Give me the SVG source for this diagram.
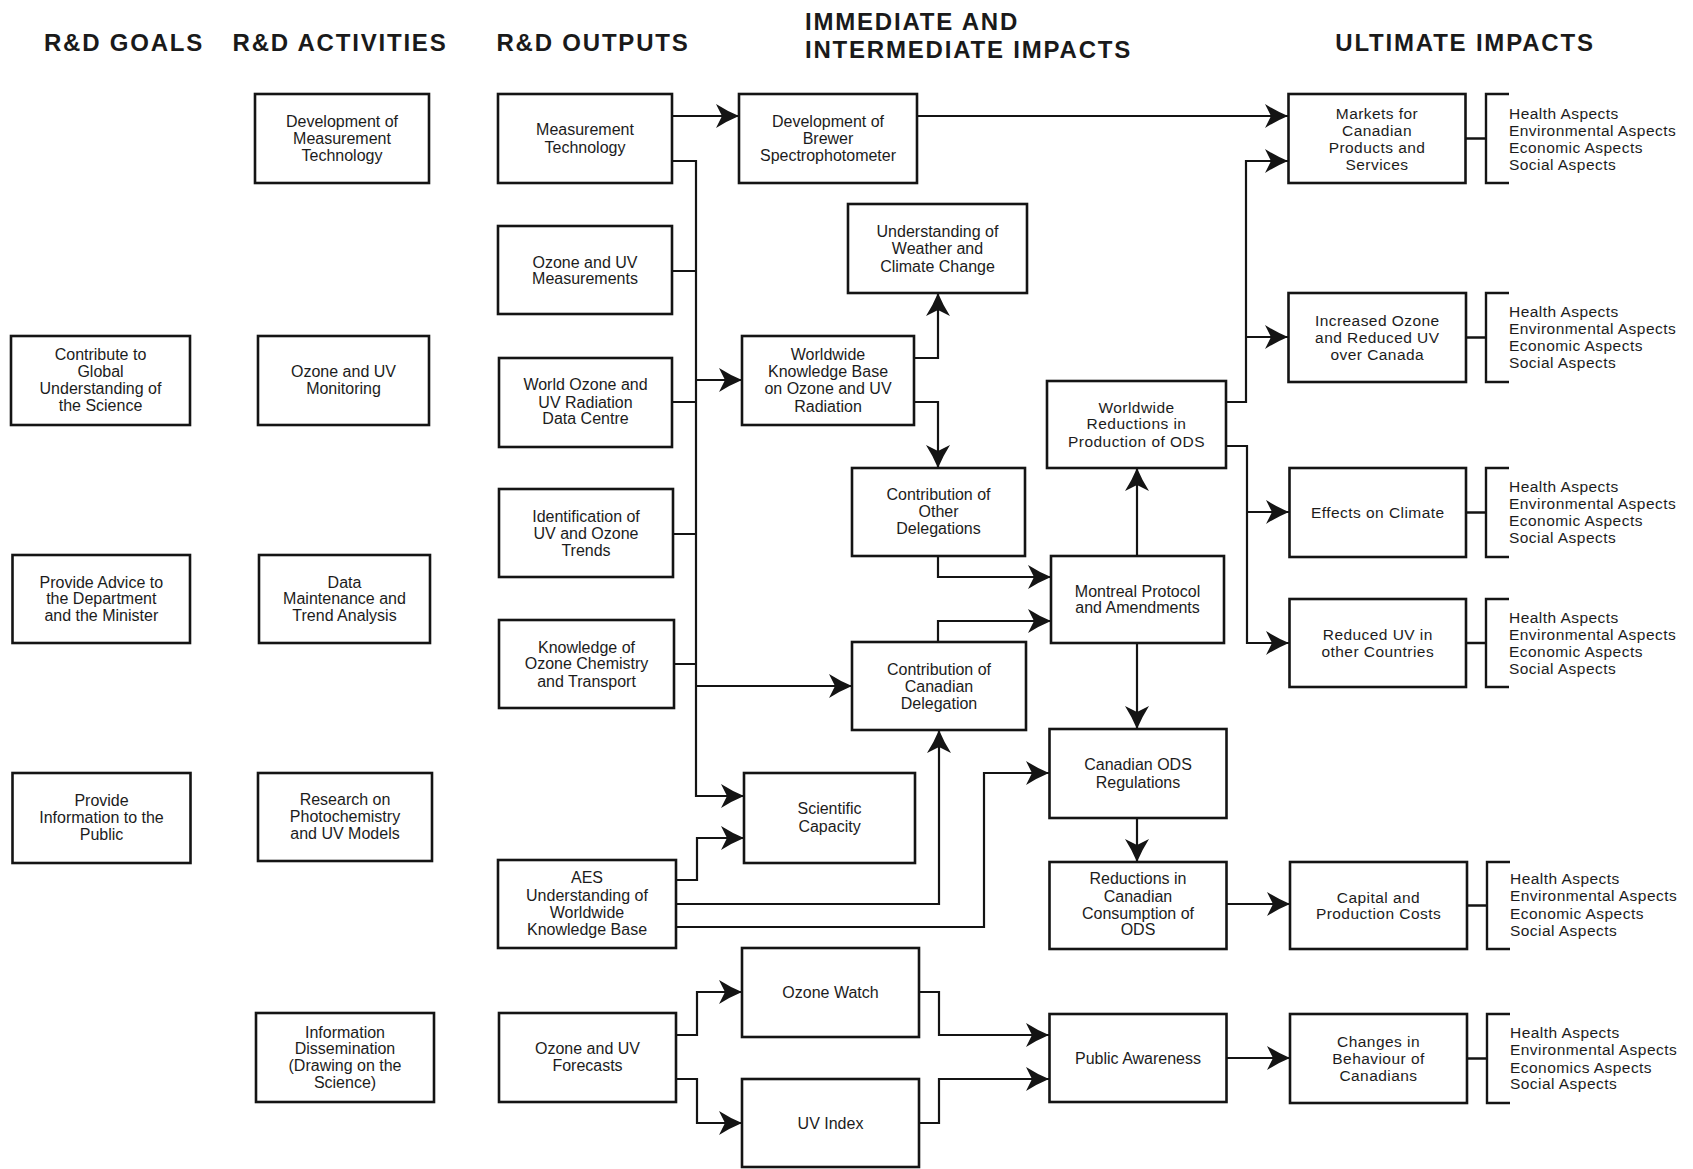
<svg xmlns="http://www.w3.org/2000/svg" width="1693" height="1169" viewBox="0 0 1693 1169">
<style>
.bg{fill:#fff}
.box{fill:#fff;stroke:#141414;stroke-width:2.6}
.t{font-family:"Liberation Sans",Arial,sans-serif;font-size:16px;fill:#1c1c1c;text-anchor:middle}
.w{font-size:15.5px;letter-spacing:0.45px}
.asp{font-family:"Liberation Sans",Arial,sans-serif;font-size:15.5px;letter-spacing:0.45px;fill:#1c1c1c}
.h{font-family:"Liberation Sans",Arial,sans-serif;font-size:24px;font-weight:bold;letter-spacing:1.8px;fill:#1a1a1a}
.c{fill:none;stroke:#141414;stroke-width:2.2}
.br{fill:none;stroke:#141414;stroke-width:2.4}
</style>
<defs>
<marker id="ah" markerUnits="userSpaceOnUse" markerWidth="24" markerHeight="26" viewBox="0 0 24 26" refX="23" refY="13" orient="auto">
<path d="M0,1 Q11,8 23,13 Q11,18 0,25 L6,13 Z" fill="#141414"/>
</marker>
</defs>
<rect class="bg" x="0" y="0" width="1693" height="1169"/>

<g id="headers">
<text class="h" x="124" y="51" text-anchor="middle">R&amp;D GOALS</text>
<text class="h" x="340" y="51" text-anchor="middle">R&amp;D ACTIVITIES</text>
<text class="h" x="593" y="51" text-anchor="middle">R&amp;D OUTPUTS</text>
<text class="h" x="805" y="30">IMMEDIATE AND</text>
<text class="h" x="805" y="58">INTERMEDIATE IMPACTS</text>
<text class="h" x="1465" y="51" text-anchor="middle">ULTIMATE IMPACTS</text>
</g>

<g id="connectors">
<path class="c" d="M672,116 H739" marker-end="url(#ah)"/>
<path class="c" d="M917,116 H1288" marker-end="url(#ah)"/>
<path class="c" d="M672,161 H696 V796 H744" marker-end="url(#ah)"/>
<path class="c" d="M672,271 H696 M672,402 H696 M673,534 H696 M674,664 H696"/>
<path class="c" d="M696,380 H742" marker-end="url(#ah)"/>
<path class="c" d="M696,686 H852" marker-end="url(#ah)"/>
<path class="c" d="M914,358 H938 V293" marker-end="url(#ah)"/>
<path class="c" d="M914,402 H938 V468" marker-end="url(#ah)"/>
<path class="c" d="M938,556 V577 H1051" marker-end="url(#ah)"/>
<path class="c" d="M938,642 V621 H1051" marker-end="url(#ah)"/>
<path class="c" d="M1137,556 V468" marker-end="url(#ah)"/>
<path class="c" d="M1137,643 V729" marker-end="url(#ah)"/>
<path class="c" d="M1137,818 V862" marker-end="url(#ah)"/>
<path class="c" d="M1226,402 H1246 V161 H1288" marker-end="url(#ah)"/>
<path class="c" d="M1246,337 H1288" marker-end="url(#ah)"/>
<path class="c" d="M1226,446 H1247 V643 H1289" marker-end="url(#ah)"/>
<path class="c" d="M1247,512 H1289" marker-end="url(#ah)"/>
<path class="c" d="M1226,904 H1290" marker-end="url(#ah)"/>
<path class="c" d="M1226,1058 H1290" marker-end="url(#ah)"/>
<path class="c" d="M676,880 H697 V838 H744" marker-end="url(#ah)"/>
<path class="c" d="M676,904 H939 V730" marker-end="url(#ah)"/>
<path class="c" d="M676,927 H984 V773 H1049" marker-end="url(#ah)"/>
<path class="c" d="M676,1035 H697 V992 H742" marker-end="url(#ah)"/>
<path class="c" d="M676,1079 H697 V1123 H742" marker-end="url(#ah)"/>
<path class="c" d="M919,992 H939 V1035 H1049" marker-end="url(#ah)"/>
<path class="c" d="M919,1123 H939 V1079 H1049" marker-end="url(#ah)"/>
</g>

<g id="goal1"><rect class="box" x="11" y="336" width="179" height="89"/><text class="t"><tspan x="100.5" y="360">Contribute to</tspan><tspan x="100.5" y="377">Global</tspan><tspan x="100.5" y="394">Understanding of</tspan><tspan x="100.5" y="411">the Science</tspan></text></g>
<g id="goal2"><rect class="box" x="12.5" y="555" width="177.5" height="88"/><text class="t"><tspan x="101.3" y="587.5">Provide Advice to</tspan><tspan x="101.3" y="603.5">the Department</tspan><tspan x="101.3" y="620.5">and the Minister</tspan></text></g>
<g id="goal3"><rect class="box" x="12.5" y="773" width="178" height="90"/><text class="t"><tspan x="101.5" y="805.5">Provide</tspan><tspan x="101.5" y="822.5">Information to the</tspan><tspan x="101.5" y="839.5">Public</tspan></text></g>

<g id="act1"><rect class="box" x="255" y="94" width="174" height="89"/><text class="t"><tspan x="342" y="126.5">Development of</tspan><tspan x="342" y="143.5">Measurement</tspan><tspan x="342" y="160.5">Technology</tspan></text></g>
<g id="act2"><rect class="box" x="258" y="336" width="171" height="89"/><text class="t"><tspan x="343.5" y="376.5">Ozone and UV</tspan><tspan x="343.5" y="393.5">Monitoring</tspan></text></g>
<g id="act3"><rect class="box" x="259" y="555" width="171" height="88"/><text class="t"><tspan x="344.5" y="587.5">Data</tspan><tspan x="344.5" y="603.5">Maintenance and</tspan><tspan x="344.5" y="620.5">Trend Analysis</tspan></text></g>
<g id="act4"><rect class="box" x="258" y="773" width="174" height="88"/><text class="t"><tspan x="345" y="804.5">Research on</tspan><tspan x="345" y="821.5">Photochemistry</tspan><tspan x="345" y="838.5">and UV Models</tspan></text></g>
<g id="act5"><rect class="box" x="256" y="1013" width="178" height="89"/><text class="t"><tspan x="345" y="1037.5">Information</tspan><tspan x="345" y="1053.5">Dissemination</tspan><tspan x="345" y="1070.5">(Drawing on the</tspan><tspan x="345" y="1087.5">Science)</tspan></text></g>

<g id="out1"><rect class="box" x="498" y="94" width="174" height="89"/><text class="t"><tspan x="585" y="134.5">Measurement</tspan><tspan x="585" y="152.5">Technology</tspan></text></g>
<g id="out2"><rect class="box" x="498" y="226" width="174" height="88"/><text class="t"><tspan x="585" y="267.5">Ozone and UV</tspan><tspan x="585" y="283.5">Measurements</tspan></text></g>
<g id="out3"><rect class="box" x="499" y="358" width="173" height="89"/><text class="t"><tspan x="585.5" y="389.5">World Ozone and</tspan><tspan x="585.5" y="407.5">UV Radiation</tspan><tspan x="585.5" y="423.5">Data Centre</tspan></text></g>
<g id="out4"><rect class="box" x="499" y="489" width="174" height="88"/><text class="t"><tspan x="586" y="521.5">Identification of</tspan><tspan x="586" y="538.5">UV and Ozone</tspan><tspan x="586" y="555.5">Trends</tspan></text></g>
<g id="out5"><rect class="box" x="499" y="620" width="175" height="88"/><text class="t"><tspan x="586.5" y="652.5">Knowledge of</tspan><tspan x="586.5" y="668.5">Ozone Chemistry</tspan><tspan x="586.5" y="686.5">and Transport</tspan></text></g>
<g id="out6"><rect class="box" x="498" y="860" width="178" height="88"/><text class="t"><tspan x="587" y="882.5">AES</tspan><tspan x="587" y="900.5">Understanding of</tspan><tspan x="587" y="917.5">Worldwide</tspan><tspan x="587" y="934.5">Knowledge Base</tspan></text></g>
<g id="out7"><rect class="box" x="499" y="1013" width="177" height="89"/><text class="t"><tspan x="587.5" y="1053.5">Ozone and UV</tspan><tspan x="587.5" y="1070.5">Forecasts</tspan></text></g>

<g id="brewer"><rect class="box" x="739" y="94" width="178" height="89"/><text class="t"><tspan x="828" y="126.5">Development of</tspan><tspan x="828" y="143.5">Brewer</tspan><tspan x="828" y="160.5">Spectrophotometer</tspan></text></g>
<g id="understanding"><rect class="box" x="848" y="204" width="179" height="89"/><text class="t"><tspan x="937.5" y="236.5">Understanding of</tspan><tspan x="937.5" y="253.5">Weather and</tspan><tspan x="937.5" y="271.5">Climate Change</tspan></text></g>
<g id="wkb"><rect class="box" x="742" y="336" width="172" height="89"/><text class="t"><tspan x="828" y="359.5">Worldwide</tspan><tspan x="828" y="376.5">Knowledge Base</tspan><tspan x="828" y="393.5">on Ozone and UV</tspan><tspan x="828" y="411.5">Radiation</tspan></text></g>
<g id="otherdel"><rect class="box" x="852" y="468" width="173" height="88"/><text class="t"><tspan x="938.5" y="499.5">Contribution of</tspan><tspan x="938.5" y="516.5">Other</tspan><tspan x="938.5" y="533.5">Delegations</tspan></text></g>
<g id="candel"><rect class="box" x="852" y="642" width="174" height="88"/><text class="t"><tspan x="939" y="674.5">Contribution of</tspan><tspan x="939" y="691.5">Canadian</tspan><tspan x="939" y="708.5">Delegation</tspan></text></g>
<g id="scicap"><rect class="box" x="744" y="773" width="171" height="90"/><text class="t"><tspan x="829.5" y="813.5">Scientific</tspan><tspan x="829.5" y="831.5">Capacity</tspan></text></g>
<g id="ozonewatch"><rect class="box" x="742" y="948" width="177" height="89"/><text class="t" x="830.5" y="997.5">Ozone Watch</text></g>
<g id="uvindex"><rect class="box" x="742" y="1079" width="177" height="88"/><text class="t" x="830.5" y="1128.5">UV Index</text></g>
<g id="worldred"><rect class="box" x="1047" y="381" width="179" height="87"/><text class="t w"><tspan x="1136.5" y="412.5">Worldwide</tspan><tspan x="1136.5" y="428.5">Reductions in</tspan><tspan x="1136.5" y="446.5">Production of ODS</tspan></text></g>
<g id="montreal"><rect class="box" x="1051" y="556" width="173" height="87"/><text class="t"><tspan x="1137.5" y="596.5">Montreal Protocol</tspan><tspan x="1137.5" y="612.5">and Amendments</tspan></text></g>
<g id="regs"><rect class="box" x="1049.5" y="729" width="177" height="89"/><text class="t"><tspan x="1138" y="769.5">Canadian ODS</tspan><tspan x="1138" y="787.5">Regulations</tspan></text></g>
<g id="reductions"><rect class="box" x="1049.5" y="862" width="177" height="87"/><text class="t"><tspan x="1138" y="883.5">Reductions in</tspan><tspan x="1138" y="901.5">Canadian</tspan><tspan x="1138" y="918.5">Consumption of</tspan><tspan x="1138" y="934.5">ODS</tspan></text></g>
<g id="awareness"><rect class="box" x="1049.5" y="1014" width="177" height="88"/><text class="t" x="1138" y="1063.5">Public Awareness</text></g>

<g id="markets"><rect class="box" x="1288.5" y="94" width="177" height="89"/><text class="t w"><tspan x="1377" y="118.5">Markets for</tspan><tspan x="1377" y="135.5">Canadian</tspan><tspan x="1377" y="152.5">Products and</tspan><tspan x="1377" y="169.5">Services</tspan></text>
<path class="br" d="M1465.5,138.5 H1486 M1509,94 H1486 V183 H1509"/>
<text class="asp"><tspan x="1509" y="118.5">Health Aspects</tspan><tspan x="1509" y="135.5">Environmental Aspects</tspan><tspan x="1509" y="152.5">Economic Aspects</tspan><tspan x="1509" y="169.5">Social Aspects</tspan></text></g>
<g id="increased"><rect class="box" x="1288.5" y="293" width="177.5" height="89"/><text class="t w"><tspan x="1377.3" y="325.5">Increased Ozone</tspan><tspan x="1377.3" y="342.5">and Reduced UV</tspan><tspan x="1377.3" y="359.5">over Canada</tspan></text>
<path class="br" d="M1466,337.5 H1486 M1509,293 H1486 V382 H1509"/>
<text class="asp"><tspan x="1509" y="316.5">Health Aspects</tspan><tspan x="1509" y="333.5">Environmental Aspects</tspan><tspan x="1509" y="350.5">Economic Aspects</tspan><tspan x="1509" y="367.5">Social Aspects</tspan></text></g>
<g id="climate"><rect class="box" x="1289.5" y="468" width="176.5" height="89"/><text class="t w" x="1377.8" y="517.5">Effects on Climate</text>
<path class="br" d="M1466,512.5 H1486 M1509,468 H1486 V557 H1509"/>
<text class="asp"><tspan x="1509" y="491.5">Health Aspects</tspan><tspan x="1509" y="508.5">Environmental Aspects</tspan><tspan x="1509" y="525.5">Economic Aspects</tspan><tspan x="1509" y="542.5">Social Aspects</tspan></text></g>
<g id="reduceduv"><rect class="box" x="1289.5" y="599" width="176.5" height="88"/><text class="t w"><tspan x="1377.8" y="639.5">Reduced UV in</tspan><tspan x="1377.8" y="656.5">other Countries</tspan></text>
<path class="br" d="M1466,643 H1486 M1509,599 H1486 V687 H1509"/>
<text class="asp"><tspan x="1509" y="622.5">Health Aspects</tspan><tspan x="1509" y="639.5">Environmental Aspects</tspan><tspan x="1509" y="656.5">Economic Aspects</tspan><tspan x="1509" y="673.5">Social Aspects</tspan></text></g>
<g id="capital"><rect class="box" x="1290" y="862" width="177" height="87"/><text class="t w"><tspan x="1378.5" y="902.5">Capital and</tspan><tspan x="1378.5" y="918.5">Production Costs</tspan></text>
<path class="br" d="M1467,905.5 H1487 M1510,862 H1487 V949 H1510"/>
<text class="asp"><tspan x="1510" y="883.5">Health Aspects</tspan><tspan x="1510" y="900.5">Environmental Aspects</tspan><tspan x="1510" y="918.5">Economic Aspects</tspan><tspan x="1510" y="935.5">Social Aspects</tspan></text></g>
<g id="behaviour"><rect class="box" x="1290" y="1014" width="177" height="89"/><text class="t w"><tspan x="1378.5" y="1046.5">Changes in</tspan><tspan x="1378.5" y="1063.5">Behaviour of</tspan><tspan x="1378.5" y="1080.5">Canadians</tspan></text>
<path class="br" d="M1467,1058.5 H1487 M1510,1014 H1487 V1103 H1510"/>
<text class="asp"><tspan x="1510" y="1037.5">Health Aspects</tspan><tspan x="1510" y="1054.5">Environmental Aspects</tspan><tspan x="1510" y="1072.5">Economics Aspects</tspan><tspan x="1510" y="1088.5">Social Aspects</tspan></text></g>
</svg>
